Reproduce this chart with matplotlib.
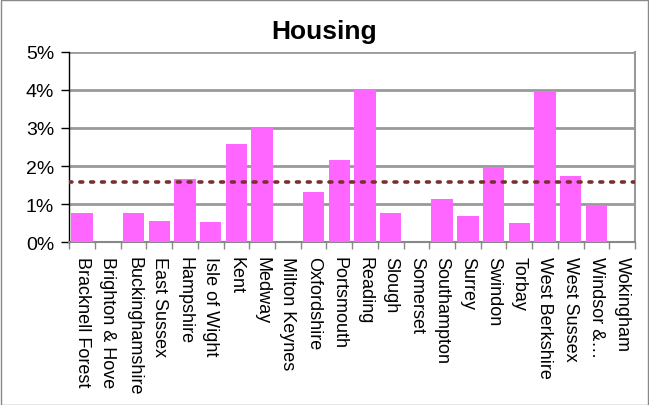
import matplotlib
matplotlib.use("Agg")
import matplotlib.pyplot as plt
from matplotlib.ticker import FixedLocator, PercentFormatter
from matplotlib.patches import Rectangle
import numpy as np

categories = ["Bracknell Forest", "Brighton & Hove", "Buckinghamshire", "East Sussex",
              "Hampshire", "Isle of Wight", "Kent", "Medway", "Milton Keynes",
              "Oxfordshire", "Portsmouth", "Reading", "Slough", "Somerset",
              "Southampton", "Surrey", "Swindon", "Torbay", "West Berkshire",
              "West Sussex", "Windsor &\u2026", "Wokingham"]
values = [0.77, 0.0, 0.77, 0.55, 1.66, 0.53, 2.58, 3.03, 0.0, 1.32, 2.15, 4.0,
          0.76, 0.0, 1.14, 0.70, 1.98, 0.50, 3.98, 1.73, 0.99, 0.0]
average = 1.57
yticks = [0, 1, 2, 3, 4, 5]

plt.rcParams['font.family'] = ['Liberation Sans', 'DejaVu Sans']

fig = plt.figure(figsize=(6.49, 4.06), dpi=100)
fig.patches.append(Rectangle((0.001, 0.001), 0.997, 0.996, transform=fig.transFigure,
                             fill=False, edgecolor='#888888', linewidth=1.0))
ax = fig.add_axes([0.1068, 0.4007, 0.8716, 0.4693])

x = np.arange(len(categories))
ax.bar(x, values, width=0.83, color='#ff66ff', zorder=3)
ax.axhline(average, color='#7a3030', linestyle=(0, (0.8, 2.2)), linewidth=2.6,
           dash_capstyle='round', zorder=4)

ax.set_xlim(-0.5, len(categories) - 0.5)
ax.set_ylim(0, 5)
ax.yaxis.set_major_locator(FixedLocator(yticks))
ax.yaxis.set_major_formatter(PercentFormatter(decimals=0))
ax.grid(axis='y', color='#999999', linewidth=2.0, zorder=1)
ax.set_axisbelow(True)

ax.set_xticks(x)
ax.set_xticklabels(categories, rotation=-90, fontsize=13, va='top', ha='center')
ax.tick_params(axis='x', which='major', length=0, pad=10)
ax.set_xticks(np.arange(-0.5, len(categories), 1), minor=True)
ax.tick_params(axis='x', which='minor', length=5, color='#888888', width=1)
ax.tick_params(axis='y', length=6, labelsize=14, width=1, color='#000000', pad=5)

ax.spines['top'].set_visible(False)
ax.spines['right'].set_color('#999999')
ax.spines['right'].set_linewidth(1.5)
ax.spines['bottom'].set_color('#888888')
ax.spines['bottom'].set_linewidth(1.5)
ax.spines['left'].set_color('#000000')
ax.spines['left'].set_linewidth(1.0)

fig.text(0.5, 0.922, "Housing", ha='center', va='center', fontsize=19, fontweight='bold')

fig.savefig("out.png", dpi=100)
